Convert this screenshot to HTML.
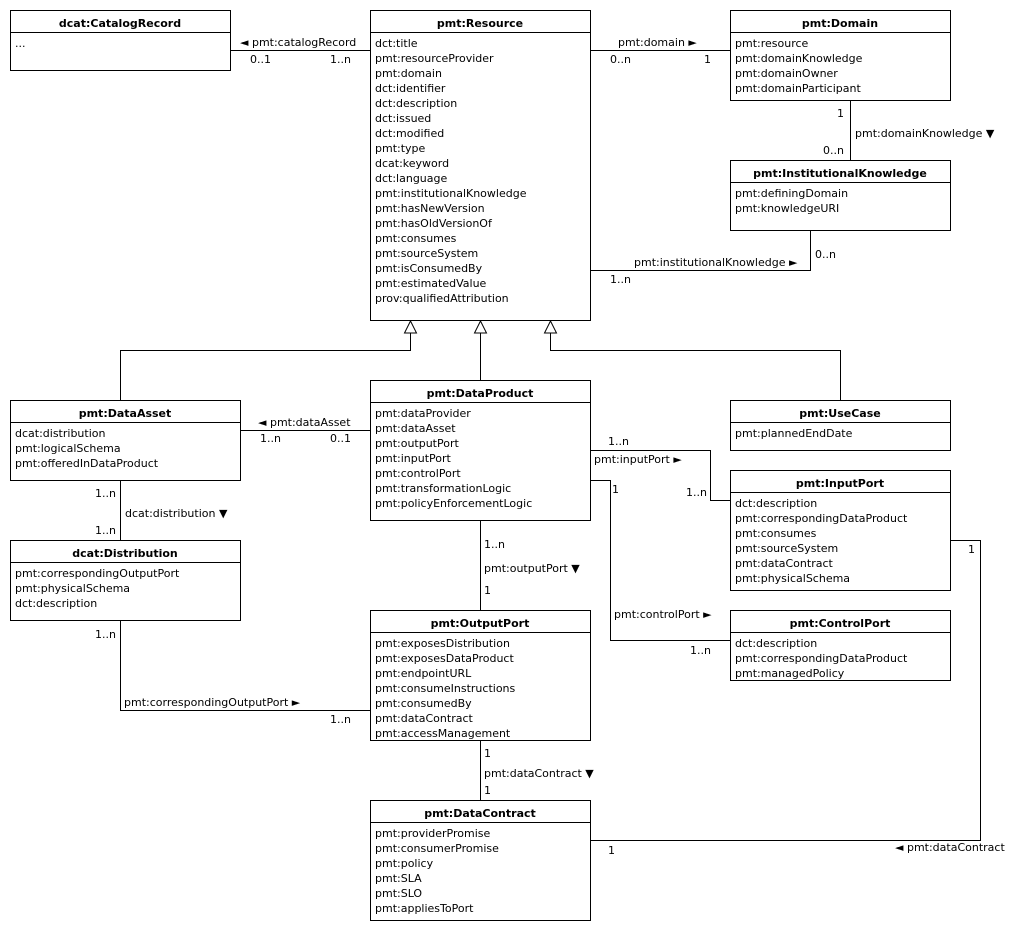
<!DOCTYPE html>
<html><head><meta charset="utf-8"><style>
html,body{margin:0;padding:0;background:#fff;}
svg{display:block;}
text{font-family:"DejaVu Sans","Liberation Sans",sans-serif;font-size:11px;fill:#000;}
.t{font-weight:bold;text-anchor:middle;}
rect{fill:#fff;stroke:#000;stroke-width:1;}
line,polyline{stroke:#000;stroke-width:1;fill:none;}
</style></head><body>
<svg width="1030" height="930" viewBox="0 0 1030 930" xmlns="http://www.w3.org/2000/svg">
<!-- connectors -->
<line x1="230" y1="50.5" x2="370" y2="50.5"/>
<line x1="590" y1="50.5" x2="730" y2="50.5"/>
<line x1="850.5" y1="100" x2="850.5" y2="160"/>
<polyline points="590,270.5 810.5,270.5 810.5,230"/>
<polyline points="120.5,400 120.5,350.5 410.5,350.5 410.5,333"/>
<line x1="480.5" y1="380" x2="480.5" y2="333"/>
<polyline points="840.5,400 840.5,350.5 550.5,350.5 550.5,333"/>
<polygon points="410.5,321 404.5,333 416.5,333" fill="#fff" stroke="#000"/>
<polygon points="480.5,321 474.5,333 486.5,333" fill="#fff" stroke="#000"/>
<polygon points="550.5,321 544.5,333 556.5,333" fill="#fff" stroke="#000"/>
<line x1="240" y1="430.5" x2="370" y2="430.5"/>
<line x1="120.5" y1="480" x2="120.5" y2="540"/>
<polyline points="590,450.5 710.5,450.5 710.5,500.5 730,500.5"/>
<polyline points="590,480.5 610.5,480.5 610.5,640.5 730,640.5"/>
<line x1="480.5" y1="520" x2="480.5" y2="610"/>
<polyline points="120.5,620 120.5,710.5 370,710.5"/>
<line x1="480.5" y1="740" x2="480.5" y2="800"/>
<polyline points="950,540.5 980.5,540.5 980.5,840.5 590,840.5"/>

<!-- connector labels -->
<text x="240" y="46">◄ pmt:catalogRecord</text>
<text x="250" y="63">0..1</text><text x="330" y="63">1..n</text>
<text x="618" y="46">pmt:domain ►</text>
<text x="610" y="63">0..n</text><text x="704" y="63">1</text>
<text x="837" y="117">1</text>
<text x="855" y="137">pmt:domainKnowledge ▼</text>
<text x="823" y="154">0..n</text>
<text x="634" y="266">pmt:institutionalKnowledge ►</text>
<text x="610" y="283">1..n</text><text x="815" y="258">0..n</text>
<text x="258" y="426">◄ pmt:dataAsset</text>
<text x="260" y="442">1..n</text><text x="330" y="442">0..1</text>
<text x="95" y="497">1..n</text>
<text x="125" y="517">dcat:distribution ▼</text>
<text x="95" y="534">1..n</text>
<text x="608" y="445">1..n</text>
<text x="594" y="463">pmt:inputPort ►</text>
<text x="686" y="496">1..n</text>
<text x="612" y="493">1</text>
<text x="614" y="618">pmt:controlPort ►</text>
<text x="690" y="654">1..n</text>
<text x="484" y="548">1..n</text>
<text x="484" y="572">pmt:outputPort ▼</text>
<text x="484" y="594">1</text>
<text x="95" y="638">1..n</text>
<text x="124" y="706">pmt:correspondingOutputPort ►</text>
<text x="330" y="723">1..n</text>
<text x="484" y="757">1</text>
<text x="484" y="777">pmt:dataContract ▼</text>
<text x="484" y="794">1</text>
<text x="968" y="553">1</text>
<text x="895" y="851">◄ pmt:dataContract</text>
<text x="608" y="854">1</text>

<!-- boxes -->
<g>
<rect x="10.5" y="10.5" width="220" height="60"/><line x1="10" y1="32.5" x2="230" y2="32.5"/>
<text class="t" x="120" y="27">dcat:CatalogRecord</text>
<text x="15" y="47">...</text>
</g>
<g>
<rect x="370.5" y="10.5" width="220" height="310"/><line x1="370" y1="32.5" x2="590" y2="32.5"/>
<text class="t" x="480" y="27">pmt:Resource</text>
<text x="375" y="47">dct:title</text><text x="375" y="62">pmt:resourceProvider</text>
<text x="375" y="77">pmt:domain</text><text x="375" y="92">dct:identifier</text>
<text x="375" y="107">dct:description</text><text x="375" y="122">dct:issued</text>
<text x="375" y="137">dct:modified</text><text x="375" y="152">pmt:type</text>
<text x="375" y="167">dcat:keyword</text><text x="375" y="182">dct:language</text>
<text x="375" y="197">pmt:institutionalKnowledge</text><text x="375" y="212">pmt:hasNewVersion</text>
<text x="375" y="227">pmt:hasOldVersionOf</text><text x="375" y="242">pmt:consumes</text>
<text x="375" y="257">pmt:sourceSystem</text><text x="375" y="272">pmt:isConsumedBy</text>
<text x="375" y="287">pmt:estimatedValue</text><text x="375" y="302">prov:qualifiedAttribution</text>
</g>
<g>
<rect x="730.5" y="10.5" width="220" height="90"/><line x1="730" y1="32.5" x2="950" y2="32.5"/>
<text class="t" x="840" y="27">pmt:Domain</text>
<text x="735" y="47">pmt:resource</text><text x="735" y="62">pmt:domainKnowledge</text>
<text x="735" y="77">pmt:domainOwner</text><text x="735" y="92">pmt:domainParticipant</text>
</g>
<g>
<rect x="730.5" y="160.5" width="220" height="70"/><line x1="730" y1="182.5" x2="950" y2="182.5"/>
<text class="t" x="840" y="177">pmt:InstitutionalKnowledge</text>
<text x="735" y="197">pmt:definingDomain</text><text x="735" y="212">pmt:knowledgeURI</text>
</g>
<g>
<rect x="10.5" y="400.5" width="230" height="80"/><line x1="10" y1="422.5" x2="240" y2="422.5"/>
<text class="t" x="125" y="417">pmt:DataAsset</text>
<text x="15" y="437">dcat:distribution</text><text x="15" y="452">pmt:logicalSchema</text>
<text x="15" y="467">pmt:offeredInDataProduct</text>
</g>
<g>
<rect x="370.5" y="380.5" width="220" height="140"/><line x1="370" y1="402.5" x2="590" y2="402.5"/>
<text class="t" x="480" y="397">pmt:DataProduct</text>
<text x="375" y="417">pmt:dataProvider</text><text x="375" y="432">pmt:dataAsset</text>
<text x="375" y="447">pmt:outputPort</text><text x="375" y="462">pmt:inputPort</text>
<text x="375" y="477">pmt:controlPort</text><text x="375" y="492">pmt:transformationLogic</text>
<text x="375" y="507">pmt:policyEnforcementLogic</text>
</g>
<g>
<rect x="730.5" y="400.5" width="220" height="50"/><line x1="730" y1="422.5" x2="950" y2="422.5"/>
<text class="t" x="840" y="417">pmt:UseCase</text>
<text x="735" y="437">pmt:plannedEndDate</text>
</g>
<g>
<rect x="10.5" y="540.5" width="230" height="80"/><line x1="10" y1="562.5" x2="240" y2="562.5"/>
<text class="t" x="125" y="557">dcat:Distribution</text>
<text x="15" y="577">pmt:correspondingOutputPort</text><text x="15" y="592">pmt:physicalSchema</text>
<text x="15" y="607">dct:description</text>
</g>
<g>
<rect x="730.5" y="470.5" width="220" height="120"/><line x1="730" y1="492.5" x2="950" y2="492.5"/>
<text class="t" x="840" y="487">pmt:InputPort</text>
<text x="735" y="507">dct:description</text><text x="735" y="522">pmt:correspondingDataProduct</text>
<text x="735" y="537">pmt:consumes</text><text x="735" y="552">pmt:sourceSystem</text>
<text x="735" y="567">pmt:dataContract</text><text x="735" y="582">pmt:physicalSchema</text>
</g>
<g>
<rect x="370.5" y="610.5" width="220" height="130"/><line x1="370" y1="632.5" x2="590" y2="632.5"/>
<text class="t" x="480" y="627">pmt:OutputPort</text>
<text x="375" y="647">pmt:exposesDistribution</text><text x="375" y="662">pmt:exposesDataProduct</text>
<text x="375" y="677">pmt:endpointURL</text><text x="375" y="692">pmt:consumeInstructions</text>
<text x="375" y="707">pmt:consumedBy</text><text x="375" y="722">pmt:dataContract</text>
<text x="375" y="737">pmt:accessManagement</text>
</g>
<g>
<rect x="730.5" y="610.5" width="220" height="70"/><line x1="730" y1="632.5" x2="950" y2="632.5"/>
<text class="t" x="840" y="627">pmt:ControlPort</text>
<text x="735" y="647">dct:description</text><text x="735" y="662">pmt:correspondingDataProduct</text>
<text x="735" y="677">pmt:managedPolicy</text>
</g>
<g>
<rect x="370.5" y="800.5" width="220" height="120"/><line x1="370" y1="822.5" x2="590" y2="822.5"/>
<text class="t" x="480" y="817">pmt:DataContract</text>
<text x="375" y="837">pmt:providerPromise</text><text x="375" y="852">pmt:consumerPromise</text>
<text x="375" y="867">pmt:policy</text><text x="375" y="882">pmt:SLA</text>
<text x="375" y="897">pmt:SLO</text><text x="375" y="912">pmt:appliesToPort</text>
</g>
</svg>
</body></html>
